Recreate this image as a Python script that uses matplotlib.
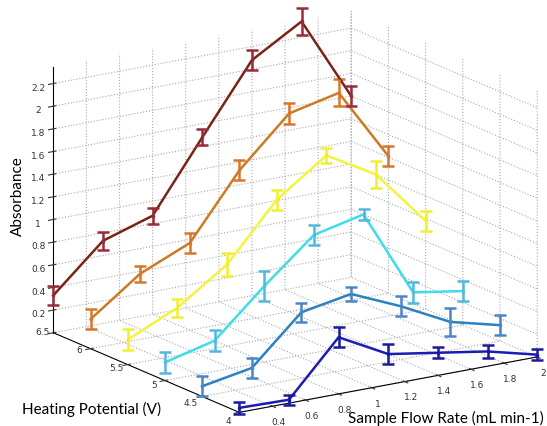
import numpy as np
import matplotlib.pyplot as plt
from matplotlib.transforms import offset_copy
from mpl_toolkits.mplot3d import proj3d

plt.rcParams['grid.linestyle'] = ':'
plt.rcParams['grid.color'] = '#a8a8a8'
plt.rcParams['grid.linewidth'] = 0.8

# sample flow rate (mL/min) and heating potential (V)
flow = [0.2, 0.5, 0.8, 1.1, 1.4, 1.7, 2.0]
potential = [4.0, 4.5, 5.0, 5.5, 6.0, 6.5]

# absorbance at each potential
abs_40 = [0.04, 0.03, 0.50, 0.27, 0.20, 0.13, 0.02]
abs_45 = [0.09, 0.17, 0.58, 0.66, 0.47, 0.25, 0.14]
abs_50 = [0.16, 0.27, 0.67, 1.04, 1.14, 0.37, 0.30]
abs_55 = [0.22, 0.42, 0.72, 1.21, 1.52, 1.27, 0.78]
abs_60 = [0.26, 0.58, 0.77, 1.33, 1.75, 1.85, 1.21]
abs_65 = [0.33, 0.73, 0.87, 1.48, 2.08, 2.34, 1.60]

err_40 = [0.05, 0.045, 0.09, 0.09, 0.05, 0.055, 0.05]
err_45 = [0.09, 0.09, 0.085, 0.06, 0.09, 0.12, 0.09]
err_50 = [0.09, 0.09, 0.13, 0.09, 0.05, 0.09, 0.09]
err_55 = [0.09, 0.08, 0.10, 0.09, 0.07, 0.115, 0.09]
err_60 = [0.09, 0.07, 0.09, 0.09, 0.09, 0.12, 0.09]
err_65 = [0.085, 0.08, 0.07, 0.07, 0.09, 0.12, 0.09]

absorb = [abs_40, abs_45, abs_50, abs_55, abs_60, abs_65]
errors = [err_40, err_45, err_50, err_55, err_60, err_65]
line_colors = ['#1c1cb4', '#2a82c0', '#3fdcec', '#f4f43c', '#cc7a24', '#7a2418']
bar_colors = ['#1a1aa0', '#4a86c8', '#52b8dc', '#f0f030', '#d8762a', '#9a2a3a']

xticks = [0.4, 0.6, 0.8, 1.0, 1.2, 1.4, 1.6, 1.8, 2.0]
xtick_labels = ['0.4', '0.6', '0.8', '1', '1.2', '1.4', '1.6', '1.8', '2']
yticks = [4.0, 4.5, 5.0, 5.5, 6.0, 6.5]
ytick_labels = ['4', '4.5', '5', '5.5', '6', '6.5']
zticks = [0.2, 0.4, 0.6, 0.8, 1.0, 1.2, 1.4, 1.6, 1.8, 2.0, 2.2]
ztick_labels = ['0.2', '0.4', '0.6', '0.8', '1', '1.2', '1.4', '1.6', '1.8', '2', '2.2']

fig = plt.figure(figsize=(5.47, 4.27), dpi=100)
ax = fig.add_axes([16 / 547, -5 / 427, 1, 1], projection='3d', proj_type='ortho')
ax.view_init(elev=16.4, azim=-123.4)
ax.set_box_aspect((354.5, 335.7, 275.7), zoom=1.283)

for v, a, e, lc, bc in zip(potential, absorb, errors, line_colors, bar_colors):
    ys = np.full(len(flow), v)
    ax.plot(flow, ys, a, color=lc, lw=1.8, marker='.', ms=3)
    ax.errorbar(flow, ys, a, zerr=e, fmt='none', ecolor=bc, elinewidth=1.8,
                capsize=4, capthick=1.8)

# the square 3d box would otherwise cut off the outer points
for artist in ax.lines + ax.collections:
    artist.set_clip_on(False)

ax.set_xlim(0.2, 2.0)
ax.set_ylim(4.0, 6.5)
ax.set_zlim(0.0, 2.35)
ax.set_xticks(xticks, xtick_labels)
ax.set_yticks(yticks)
ax.set_zticks(zticks, ztick_labels)
ax.tick_params(labelsize=6.5, colors='#333333', pad=-3)
ax.yaxis.set_tick_params(labelbottom=False)

for axis in (ax.xaxis, ax.yaxis, ax.zaxis):
    axis.set_pane_color((1, 1, 1, 0))
    axis.pane.set_edgecolor('white')
    axis.line.set_color('black')
    axis.line.set_linewidth(0.8)
    axis.label.set_visible(False)
    axis.offsetText.set_visible(False)

# potential labels sit closer to the axis than mplot3d puts them:
# project the tick positions and write them as plain 2d text
fig.canvas.draw()
for v, lab in zip(yticks, ytick_labels):
    xp, yp, _ = proj3d.proj_transform(0.2, v, 0.0, ax.M)
    dy = -1 + (6.5 - v) * 3.6
    tr = offset_copy(ax.transData, fig=fig, x=-11, y=-dy, units='dots')
    ax.text2D(xp, yp, lab, transform=tr, ha='center', va='center',
              fontsize=6.5, color='#333333')

fig.text(0.033, 0.54, 'Absorbance', rotation=90, ha='center', va='center',
         fontsize=11, family='Lato')
fig.text(0.04, 0.04, 'Heating Potential (V)', ha='left', va='center',
         fontsize=11, family='Lato')
fig.text(0.637, 0.02, 'Sample Flow Rate (mL min-1)', ha='left', va='center',
         fontsize=11, family='Lato')

fig.savefig('out.png', dpi=100)
